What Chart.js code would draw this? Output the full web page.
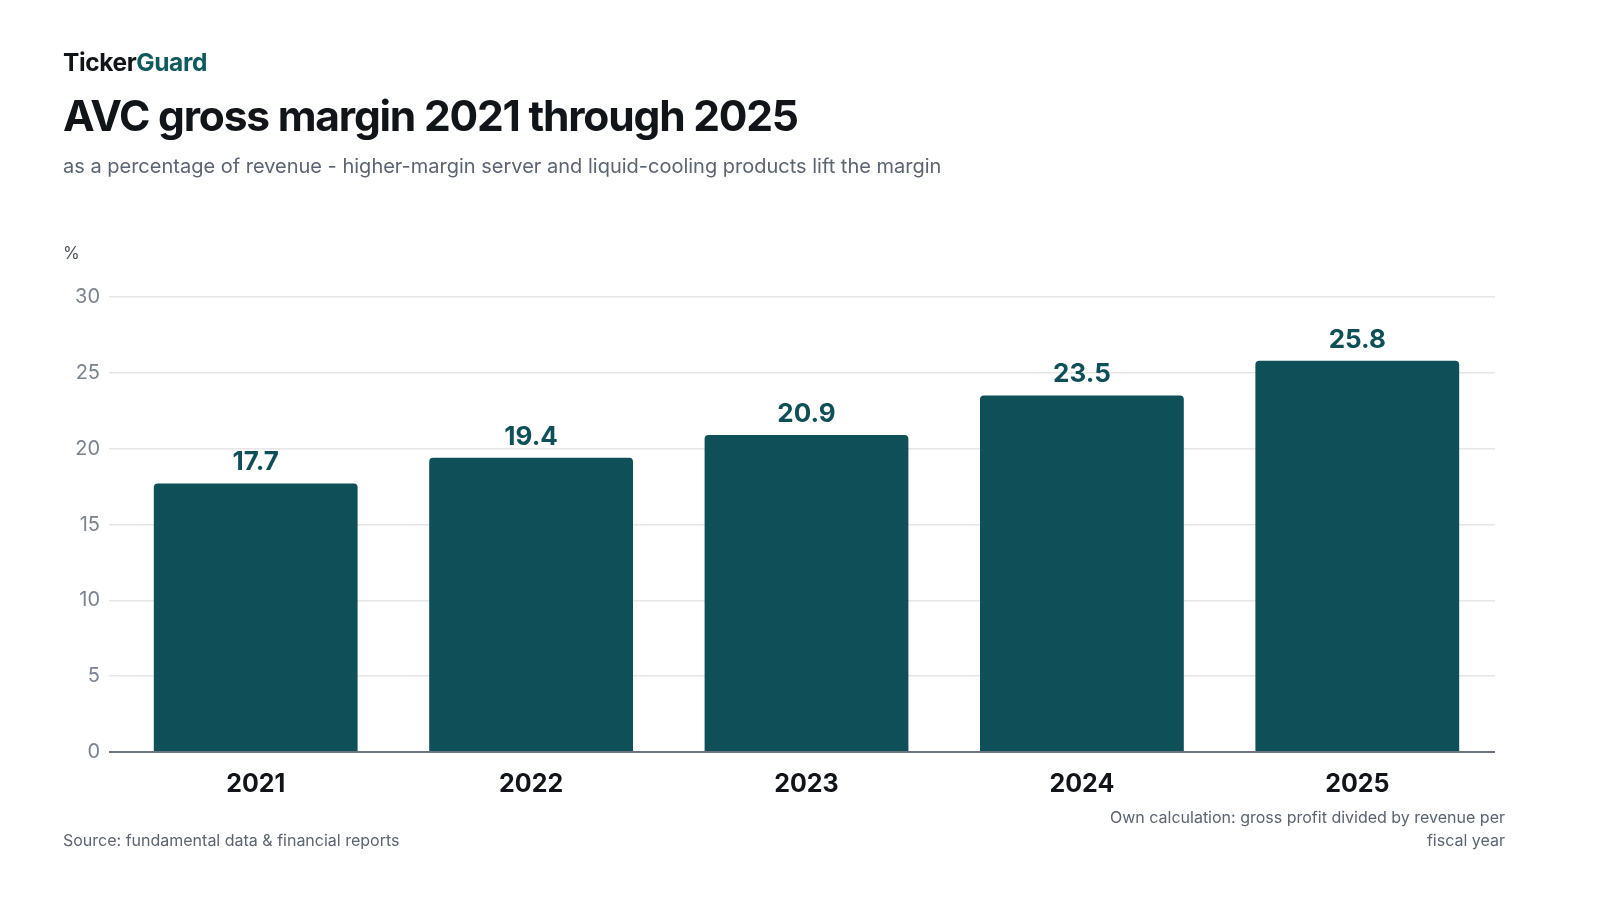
<!DOCTYPE html>
<html>
<head>
<meta charset="utf-8">
<script src="https://cdn.jsdelivr.net/npm/chart.js@4.4.1/dist/chart.umd.min.js"></script>
<style>
  html, body { margin: 0; padding: 0; background: #ffffff; }
  body { width: 1600px; height: 900px; position: relative; overflow: hidden; font-family: Inter, "Noto Sans", sans-serif; }
  #wrap { position: absolute; left: 0; top: 0; width: 1600px; height: 900px; }
  .txt { position: absolute; white-space: nowrap; }
  #brand { left: 63px; top: 47px; font-size: 24.5px; font-weight: 700; color: #111418; letter-spacing: -0.4px; }
  #brand span { color: #0f5a5c; }
  #title { left: 63px; top: 90px; font-size: 42.5px; font-weight: 700; color: #111418; letter-spacing: -1.2px; }
  #sub { left: 63px; top: 154px; font-size: 20px; color: #5b6470; }
  #unit { left: 63px; top: 243px; font-size: 17px; color: #4a525c; }
  #source { left: 63px; top: 830px; font-size: 16px; color: #5b6470; }
  #note { right: 95px; top: 806px; font-size: 16px; color: #5b6470; text-align: right; line-height: 23px; }
</style>
</head>
<body>
<div id="wrap"><canvas id="c" width="1600" height="900"></canvas></div>
<div class="txt" id="brand">Ticker<span>Guard</span></div>
<div class="txt" id="title">AVC gross margin 2021 through 2025</div>
<div class="txt" id="sub">as a percentage of revenue - higher-margin server and liquid-cooling products lift the margin</div>
<div class="txt" id="unit">%</div>
<div class="txt" id="source">Source: fundamental data &amp; financial reports</div>
<div class="txt" id="note">Own calculation: gross profit divided by revenue per<br>fiscal year</div>
<script>
const categories = ["2021", "2022", "2023", "2024", "2025"];
const grossMargin = [17.7, 19.4, 20.9, 23.5, 25.8];
const yTicks = [0, 5, 10, 15, 20, 25, 30];

const valueLabels = {
  id: 'valueLabels',
  afterDatasetsDraw(chart) {
    const ctx = chart.ctx;
    const meta = chart.getDatasetMeta(0);
    ctx.save();
    ctx.font = '700 26px Inter, "Noto Sans", sans-serif';
    ctx.fillStyle = '#0f4f57';
    ctx.textAlign = 'center';
    ctx.textBaseline = 'middle';
    meta.data.forEach((bar, i) => {
      ctx.fillText(grossMargin[i].toFixed(1), bar.x, bar.y - 21);
    });
    ctx.restore();
  }
};

new Chart(document.getElementById('c'), {
  type: 'bar',
  data: {
    labels: categories,
    datasets: [{
      data: grossMargin,
      backgroundColor: '#0f4f57',
      borderRadius: { topLeft: 4, topRight: 4, bottomLeft: 0, bottomRight: 0 },
      borderSkipped: 'bottom',
      categoryPercentage: 0.74,
      barPercentage: 1.0
    }]
  },
  options: {
    responsive: false,
    animation: false,
    devicePixelRatio: 1,
    layout: { padding: { left: 60, right: 105, top: 297, bottom: 100 } },
    plugins: { legend: { display: false }, tooltip: { enabled: false } },
    scales: {
      x: {
        grid: { display: false, drawTicks: false },
        border: { display: false },
        ticks: { color: '#111418', font: { family: 'Inter', size: 25, weight: '700' }, padding: 17 },
        afterFit(scale) { scale.height = 48; }
      },
      y: {
        min: 0, max: 30,
        afterBuildTicks(scale) { scale.ticks = yTicks.map(v => ({ value: v })); },
        grid: {
          color: (c) => (c.tick && c.tick.value === 0) ? '#6b7480' : '#e5e6e8',
          lineWidth: (c) => (c.tick && c.tick.value === 0) ? 2 : 1.5,
          drawTicks: true,
          tickLength: 9
        },
        border: { display: false },
        ticks: { color: '#7b838e', font: { family: 'Inter', size: 20 }, padding: 9 },
        afterFit(scale) { scale.width = 58; }
      }
    }
  },
  plugins: [valueLabels]
});
</script>
</body>
</html>
